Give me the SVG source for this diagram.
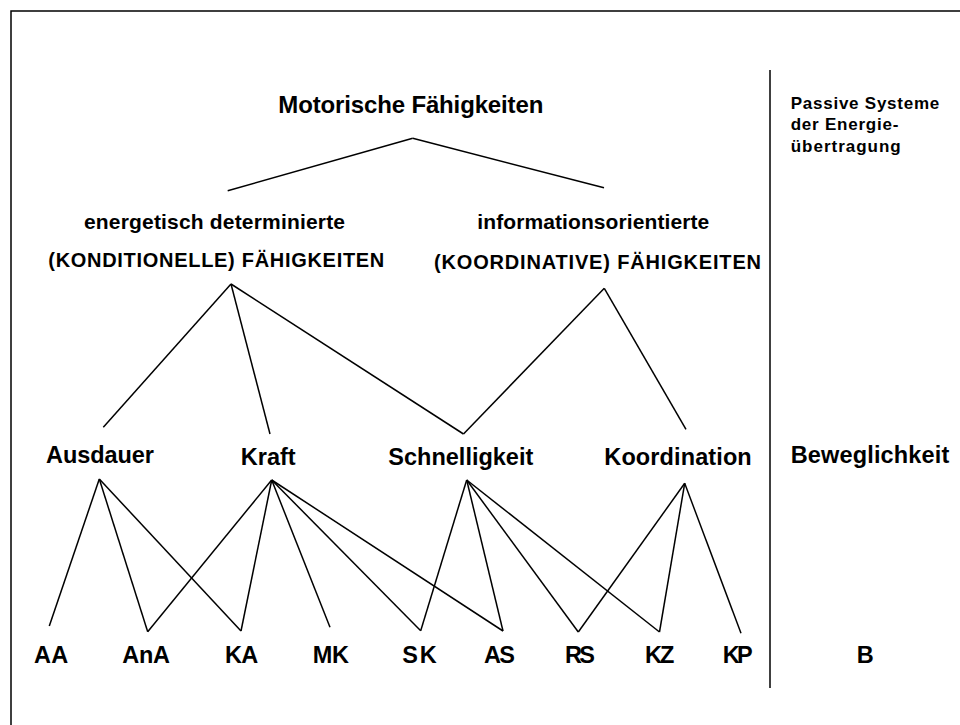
<svg xmlns="http://www.w3.org/2000/svg" width="960" height="725" viewBox="0 0 960 725">
<style>
text{font-family:"Liberation Sans",Arial,sans-serif;font-weight:bold;fill:#000}
.t1{font-size:24px}
.t2{font-size:21px}
.t3{font-size:20px}
.t4{font-size:23.5px}
.t5{font-size:17px}
.t6{font-size:23.5px}
.c line{stroke:#000;stroke-width:1.5;fill:none}
.frame{stroke:#000;stroke-width:1.5;fill:none}
</style>
<rect width="960" height="725" fill="#fff"/>
<path class="frame" d="M11,730 V11 H965"/>
<line x1="770" y1="70" x2="770" y2="688" stroke="#000" stroke-width="1.5"/>
<g class="c" id="connectors">
<line x1="412.7" y1="138.3" x2="227.7" y2="190.7"/>
<line x1="412.7" y1="138.3" x2="604" y2="187.7"/>
<line x1="231" y1="284" x2="103.3" y2="427.3"/>
<line x1="231" y1="284" x2="270" y2="434"/>
<line x1="231" y1="284" x2="463.5" y2="434"/>
<line x1="604.3" y1="288.3" x2="463.5" y2="434"/>
<line x1="604.3" y1="288.3" x2="686" y2="429.3"/>
<line x1="99.3" y1="479" x2="49.3" y2="626"/>
<line x1="99.3" y1="479" x2="147.7" y2="631.7"/>
<line x1="99.3" y1="479" x2="241" y2="631"/>
<line x1="271.7" y1="480" x2="147.7" y2="631.7"/>
<line x1="271.7" y1="480" x2="241" y2="631"/>
<line x1="271.7" y1="480" x2="330" y2="627.3"/>
<line x1="271.7" y1="480" x2="420.7" y2="630.7"/>
<line x1="271.7" y1="480" x2="503" y2="631"/>
<line x1="466.7" y1="480" x2="420.7" y2="630.7"/>
<line x1="466.7" y1="480" x2="503" y2="631"/>
<line x1="466.7" y1="480" x2="578.3" y2="632"/>
<line x1="466.7" y1="480" x2="659.5" y2="632"/>
<line x1="684.7" y1="483.3" x2="578.3" y2="632"/>
<line x1="684.7" y1="483.3" x2="659.5" y2="632"/>
<line x1="684.7" y1="483.3" x2="741" y2="633.3"/>
</g>
<g id="motorische"><text class="t1" x="278.3" y="113.3" textLength="265" lengthAdjust="spacing">Motorische Fähigkeiten</text></g>
<g id="konditionelle">
<text class="t2" x="84" y="229.3" textLength="261" lengthAdjust="spacing">energetisch determinierte</text>
<text class="t3" x="48.3" y="266.7" textLength="336" lengthAdjust="spacing">(KONDITIONELLE) FÄHIGKEITEN</text>
</g>
<g id="koordinative">
<text class="t2" x="477.3" y="228.8" textLength="232" lengthAdjust="spacing">informationsorientierte</text>
<text class="t3" x="434" y="269.3" textLength="327" lengthAdjust="spacing">(KOORDINATIVE) FÄHIGKEITEN</text>
</g>
<g id="passive">
<text class="t5" x="790.7" y="109" textLength="148.6" lengthAdjust="spacing">Passive Systeme</text>
<text class="t5" x="790.7" y="130" textLength="107.7" lengthAdjust="spacing">der Energie-</text>
<text class="t5" x="790.7" y="151.5" textLength="110" lengthAdjust="spacing">übertragung</text>
</g>
<g id="ausdauer"><text class="t4" x="46" y="463" textLength="108" lengthAdjust="spacing">Ausdauer</text></g>
<g id="kraft"><text class="t4" x="240.7" y="464.7" textLength="55" lengthAdjust="spacing">Kraft</text></g>
<g id="schnelligkeit"><text class="t4" x="388.3" y="465" textLength="145" lengthAdjust="spacing">Schnelligkeit</text></g>
<g id="koordination"><text class="t4" x="604.3" y="465" textLength="147.4" lengthAdjust="spacing">Koordination</text></g>
<g id="beweglichkeit"><text class="t4" x="790.7" y="463" textLength="158.6" lengthAdjust="spacing">Beweglichkeit</text></g>
<g id="AA"><text class="t6" x="34" y="662.7" textLength="34.3" lengthAdjust="spacing">AA</text></g>
<g id="AnA"><text class="t6" x="122.3" y="662.7" textLength="47.7" lengthAdjust="spacing">AnA</text></g>
<g id="KA"><text class="t6" x="225" y="662.7" textLength="33.3" lengthAdjust="spacing">KA</text></g>
<g id="MK"><text class="t6" x="312.7" y="662.7" textLength="36.3" lengthAdjust="spacing">MK</text></g>
<g id="SK"><text class="t6" x="402.3" y="662.7" textLength="34.4" lengthAdjust="spacing">SK</text></g>
<g id="AS"><text class="t6" x="484" y="662.7" textLength="31" lengthAdjust="spacing">AS</text></g>
<g id="RS"><text class="t6" x="565" y="662.7" textLength="30" lengthAdjust="spacing">RS</text></g>
<g id="KZ"><text class="t6" x="645" y="662.7" textLength="29.3" lengthAdjust="spacing">KZ</text></g>
<g id="KP"><text class="t6" x="722.7" y="662.7" textLength="30" lengthAdjust="spacing">KP</text></g>
<g id="B"><text class="t6" x="856.7" y="662.7">B</text></g>
</svg>
